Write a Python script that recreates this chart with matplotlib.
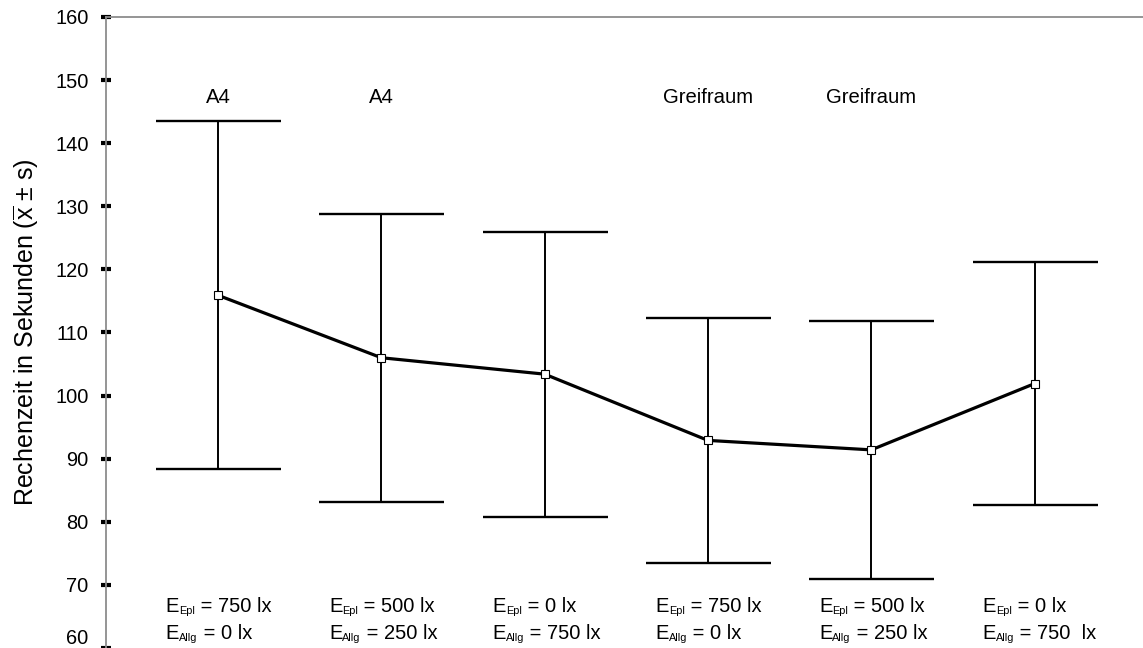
import matplotlib
matplotlib.use("Agg")
import matplotlib.pyplot as plt
import numpy as np

plt.rcParams['font.family'] = ['Liberation Sans', 'DejaVu Sans']
plt.rcParams['mathtext.fontset'] = 'custom'
plt.rcParams['mathtext.rm'] = 'Liberation Sans'
plt.rcParams['mathtext.it'] = 'Liberation Sans'

# data
positions = [1, 2, 3, 4, 5, 6]
means = [115.9, 106.0, 103.4, 92.9, 91.4, 101.9]
sds = [27.6, 22.8, 22.6, 19.4, 20.5, 19.3]
top_labels = ["A4", "A4", "", "Greifraum", "Greifraum", ""]
epl_values = ["750 lx", "500 lx", "0 lx", "750 lx", "500 lx", "0 lx"]
allg_values = ["0 lx", "250 lx", "750 lx", "0 lx", "250 lx", "750  lx"]
yticks = [60, 70, 80, 90, 100, 110, 120, 130, 140, 150, 160]

W, H = 1143, 648
fig = plt.figure(figsize=(W / 100, H / 100), dpi=100)
ax = fig.add_axes([106 / W, 0.0, 1 - 106 / W, 1 - 17 / H])

ax.errorbar(positions, means, yerr=sds, fmt='none', ecolor='black',
            elinewidth=1.4, capsize=45, capthick=1.7, zorder=2)
ax.plot(positions, means, color='black', lw=2.3, marker='s', ms=5.5,
        mfc='white', mec='black', mew=0.8, zorder=3)

ax.set_xlim(0.314, 6.664)
ax.set_ylim(60, 160)
ax.set_yticks(yticks)
ax.set_xticks([])

for s in ['right', 'bottom']:
    ax.spines[s].set_visible(False)
for s in ['left', 'top']:
    ax.spines[s].set_color('#8c8c8c')
    ax.spines[s].set_linewidth(1.3)

ax.tick_params(axis='y', direction='inout', length=7, width=3.0, color='black',
               labelsize=14.4, pad=9)
# keep the lowest tick label inside the figure
ax.get_yticklabels()[0].set_verticalalignment('bottom')

ax.set_ylabel(r'Rechenzeit in Sekunden ($\mathregular{\overline{x}}$ ± s)', fontsize=18, labelpad=10)

for x, lab in zip(positions, top_labels):
    if lab:
        ax.text(x, 147.2, lab, ha='center', va='center', fontsize=14.6)

MAIN_FS = 14.5
SUB_FS = 7.8


def sub_label(x, y, sub, rest):
    t1 = ax.text(x, y, 'E', ha='left', va='baseline', fontsize=MAIN_FS)
    t2 = ax.annotate(sub, xy=(1, 0), xycoords=t1, ha='left', va='bottom',
                     fontsize=SUB_FS)
    ax.annotate(' = ' + rest, xy=(1, 0), xycoords=(t2, t1), ha='left',
                va='bottom', fontsize=MAIN_FS)


for x, e, a in zip(positions, epl_values, allg_values):
    sub_label(x - 0.32, 65.7, 'Epl', e)
    sub_label(x - 0.32, 61.4, 'Allg', a)

fig.savefig('out.png', dpi=100, facecolor='white')
